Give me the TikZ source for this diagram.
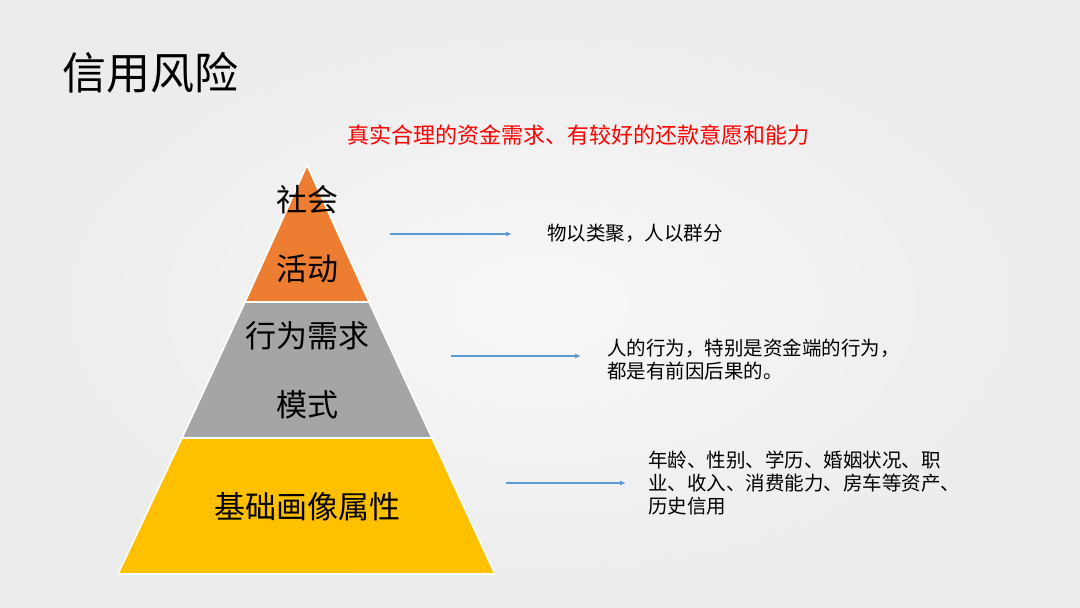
\documentclass[tikz,border=0pt]{standalone}
\usepackage{fontspec}
\setmainfont{Noto Sans CJK SC}
\usetikzlibrary{arrows.meta,positioning}
\definecolor{bandtop}{HTML}{ED7D31}
\definecolor{bandmid}{HTML}{A5A5A5}
\definecolor{bandlow}{HTML}{FFC000}
\definecolor{arrowblue}{HTML}{5B9BD5}
\definecolor{slidebg}{HTML}{ECECEC}
\tikzset{
  band/.style={draw=white,line width=1.6pt,line join=round},
  bandtext/.style={align=center,font=\fontsize{31}{68.5}\selectfont},
  notetext/.style={anchor=west,align=left,font=\fontsize{19.5}{23}\selectfont},
  pointer/.style={arrowblue,line width=1.1pt,-{Latex[length=6pt,width=5pt]}}
}

\begin{document}
\begin{tikzpicture}[x=1pt,y=-1pt,every node/.style={inner sep=0pt}]
	\useasboundingbox (0,0) rectangle (1080,608);
	\shade[inner color=white!60!slidebg,outer color=slidebg] (0,0) rectangle (1080,608);
    % title and red line
    \node[anchor=west,font=\fontsize{44}{50}\selectfont] (title) at (62,73){信用风险};
    \node[red,font=\fontsize{22}{26}\selectfont] (goal) at (578,135){真实合理的资金需求、有较好的还款意愿和能力};
    % pyramid
    \draw[band,fill=bandtop] (307,165)--(369,302)--(245,302)--cycle;
    \draw[band,fill=bandmid] (245,302)--(369,302)--(432,438)--(182,438)--cycle;
    \draw[band,fill=bandlow] (182,438)--(432,438)--(495,574)--(118,574)--cycle;
    \node[bandtext] (social) at (307,234){社会\\活动};
    \node[bandtext] (behave) at (307,370){行为需求\\模式};
    \node[bandtext] (profile) at (307,507){基础画像属性};
    % notes on the right
    \node[notetext] (noteA) at (547,233){物以类聚，人以群分};
    \node[notetext] (noteB) at (607,360){人的行为，特别是资金端的行为，\\都是有前因后果的。};
    \node[notetext] (noteC) at (648,483){年龄、性别、学历、婚姻状况、职\\业、收入、消费能力、房车等资产、\\历史信用};
    \coordinate (fromA) at (390,234);
    \coordinate (fromB) at (451,356);
    \coordinate (fromC) at (506,483);
    \draw[pointer,shorten >=35pt] (fromA)--(fromA-|noteA.west);
    \draw[pointer,shorten >=26pt] (fromB)--(fromB-|noteB.west);
    \draw[pointer,shorten >=22pt] (fromC)--(fromC-|noteC.west);
\end{tikzpicture}
\end{document}
